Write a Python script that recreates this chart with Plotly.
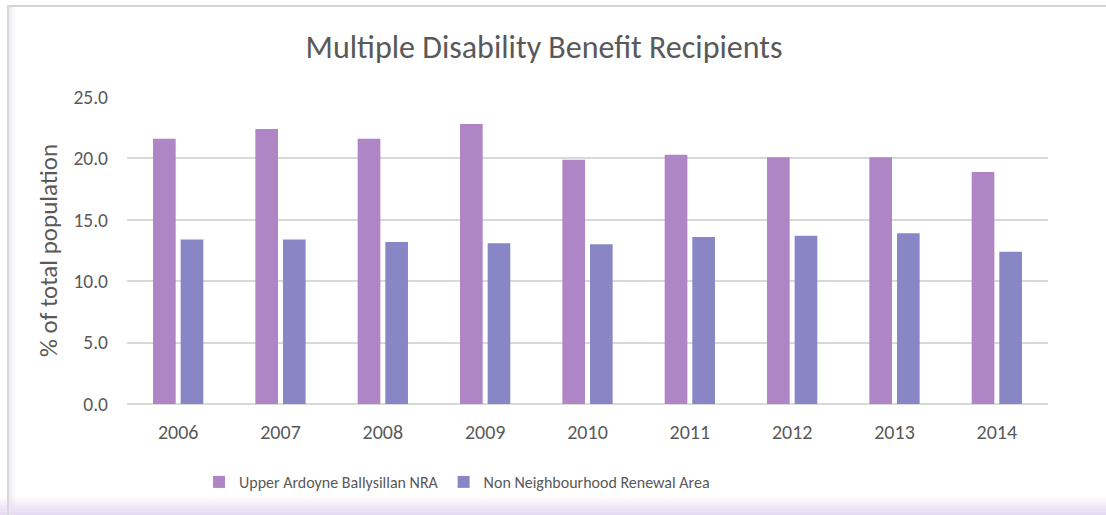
import plotly.graph_objects as go

# Data
years = ["2006", "2007", "2008", "2009", "2010", "2011", "2012", "2013", "2014"]
nra_values = [21.6, 22.4, 21.6, 22.8, 19.9, 20.3, 20.1, 20.1, 18.9]
non_nra_values = [13.4, 13.4, 13.2, 13.1, 13.0, 13.6, 13.7, 13.9, 12.4]

W, H = 1106, 515
L, R, T, B = 127, 58, 97, 111
FONT = "Calibri, Carlito, Lato, sans-serif"
TEXT = "#595959"


def px(x, y):
    # pixel position -> paper coordinates of the plot area
    pw, ph = W - L - R, H - T - B
    return (x - L) / pw, (H - B - y) / ph


def px_rect(x0, y0, x1, y1, color, layer="below"):
    a, b = px(x0, y1)
    c, d = px(x1, y0)
    return dict(type="rect", xref="paper", yref="paper", layer=layer,
                x0=a, x1=c, y0=b, y1=d, line=dict(width=0), fillcolor=color)


fig = go.Figure()
fig.add_trace(go.Bar(
    x=years, y=nra_values, name="Upper Ardoyne Ballysillan NRA",
    marker=dict(color="#AE85C5", line=dict(width=0)),
))
fig.add_trace(go.Bar(
    x=years, y=non_nra_values, name="Non Neighbourhood Renewal Area",
    marker=dict(color="#8986C6", line=dict(width=0)),
))

shapes = []
# soft lavender fade along the bottom edge
steps = 10
for i in range(steps):
    y0 = 497 + i * 1.8
    shapes.append(px_rect(0, y0, W + 5, y0 + 1.8,
                          f"rgba(228,216,240,{(i + 1) / steps:.2f})"))
# faint fade inside the left edge
for i in range(5):
    shapes.append(px_rect(9 + i * 1.2, 6, 10.2 + i * 1.2, H + 5,
                          f"rgba(236,228,244,{(5 - i) / 6:.2f})"))
# chart frame (top and left edges)
shapes.append(px_rect(7, 5, W + 5, 7, "#d4d4d4", layer="above"))
shapes.append(px_rect(7, 5, 9, H + 5, "#d9d9d9", layer="above"))

lx, ly = px(199, 482)

fig.update_layout(
    width=W, height=H,
    margin=dict(l=L, r=R, t=T, b=B, autoexpand=False),
    paper_bgcolor="white", plot_bgcolor="white",
    font=dict(family=FONT, color=TEXT, size=16),
    title=dict(text="Multiple Disability Benefit Recipients",
               x=544 / W, xref="container", y=1 - 47 / H, yref="container",
               xanchor="center", yanchor="middle",
               font=dict(size=32, color=TEXT, family=FONT)),
    barmode="group", bargap=0.46, bargroupgap=0.18,
    xaxis=dict(type="category", showgrid=False, showline=False,
               ticks="", ticklabelstandoff=14,
               tickfont=dict(size=20, color=TEXT)),
    yaxis=dict(range=[0, 25], dtick=5, tickformat=".1f",
               showgrid=True, gridcolor="#d9d9d9", gridwidth=1.5,
               zeroline=True, zerolinecolor="#d9d9d9", zerolinewidth=1.5,
               showline=False, ticks="", ticklen=0, ticklabelstandoff=18,
               tickfont=dict(size=19.5, color=TEXT),
               title=dict(text="% of total population", standoff=8,
                          font=dict(size=25, color=TEXT))),
    legend=dict(orientation="h", x=lx, y=ly, xanchor="left", yanchor="middle",
                font=dict(size=16, color=TEXT), itemwidth=30,
                traceorder="normal", bgcolor="rgba(0,0,0,0)"),
    shapes=shapes,
)

fig.write_html("out.html", config={"displayModeBar": False},
               post_script="document.body.style.margin='0';")
